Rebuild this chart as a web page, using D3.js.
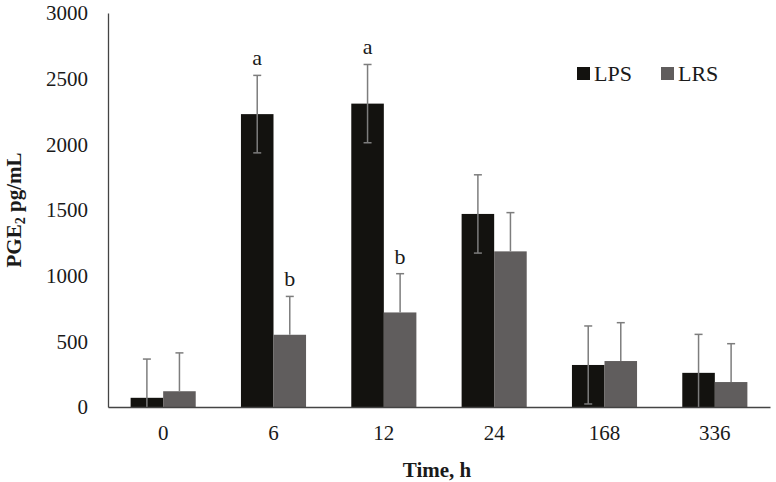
<!DOCTYPE html>
<html>
<head>
<meta charset="utf-8">
<script src="https://cdn.jsdelivr.net/npm/d3@7/dist/d3.min.js"></script>
<style>
  body { margin: 0; background: #fff; }
  svg { display: block; }
  text { font-family: "Liberation Serif", "Times New Roman", serif; fill: #1a1a1a; }
</style>
</head>
<body>
<svg id="chart" width="776" height="482"></svg>
<script>
const categories = ["0", "6", "12", "24", "168", "336"];
const seriesNames = ["LPS", "LRS"];
const lpsValues = [70, 2230, 2310, 1470, 320, 260];
const lrsValues = [120, 550, 720, 1185, 350, 190];
const lpsErrors = [295, 295, 298, 298, 297, 293];
const lrsErrors = [292, 292, 295, 295, 292, 292];
const lpsLetters = ["", "a", "a", "", "", ""];
const lrsLetters = ["", "b", "b", "", "", ""];
const yTicks = [0, 500, 1000, 1500, 2000, 2500, 3000];
const colors = ["#13120f", "#605d5d"];

const svg = d3.select("#chart");
const margin = { left: 108, right: 6, top: 13, bottom: 75 };
const W = 776, H = 482;
const plotW = W - margin.left - margin.right;
const plotH = H - margin.top - margin.bottom;

const g = svg.append("g").attr("transform", `translate(${margin.left},${margin.top})`);

const x0 = d3.scaleBand().domain(categories).range([0, plotW]).paddingInner(0.41).paddingOuter(0.205);
const x1 = d3.scaleBand().domain(seriesNames).range([0, x0.bandwidth()]).padding(0);
const y = d3.scaleLinear().domain([0, 3000]).range([plotH, 0]);

const data = categories.map((c, i) => ({
  cat: c,
  vals: [
    { s: "LPS", v: lpsValues[i], e: lpsErrors[i], l: lpsLetters[i], both: true },
    { s: "LRS", v: lrsValues[i], e: lrsErrors[i], l: lrsLetters[i], both: false }
  ]
}));

const groups = g.selectAll("g.grp").data(data).join("g")
  .attr("class", "grp")
  .attr("transform", d => `translate(${x0(d.cat)},0)`);

groups.selectAll("rect").data(d => d.vals).join("rect")
  .attr("x", d => x1(d.s))
  .attr("y", d => y(d.v))
  .attr("width", x1.bandwidth())
  .attr("height", d => plotH - y(d.v))
  .attr("fill", (d, i) => colors[i]);

const errColor = "#7d7d7d";
const capW = 8;
groups.each(function(d) {
  const gg = d3.select(this);
  d.vals.forEach(p => {
    const cx = x1(p.s) + x1.bandwidth() / 2;
    const top = y(p.v + p.e);
    const bot = p.both ? y(Math.max(0, p.v - p.e)) : y(p.v);
    gg.append("line").attr("x1", cx).attr("x2", cx).attr("y1", top).attr("y2", bot)
      .attr("stroke", errColor).attr("stroke-width", 1.5);
    gg.append("line").attr("x1", cx - capW / 2).attr("x2", cx + capW / 2).attr("y1", top).attr("y2", top)
      .attr("stroke", errColor).attr("stroke-width", 1.5);
    if (p.both && p.v - p.e > 0) {
      gg.append("line").attr("x1", cx - capW / 2).attr("x2", cx + capW / 2).attr("y1", bot).attr("y2", bot)
        .attr("stroke", errColor).attr("stroke-width", 1.5);
    }
    if (p.l) {
      gg.append("text").attr("x", cx).attr("y", top - 10)
        .attr("text-anchor", "middle").attr("font-size", 22).text(p.l);
    }
  });
});

const yAxis = d3.axisLeft(y).tickValues(yTicks).tickSize(0).tickPadding(20).tickFormat(d3.format("d"));
const yg = g.append("g").call(yAxis);
yg.select(".domain").attr("stroke", "#444").attr("stroke-width", 1.3);
yg.selectAll("text").attr("font-size", 21).attr("fill", "#1a1a1a");

const xAxis = d3.axisBottom(x0).tickSize(0).tickPadding(18);
const xg = g.append("g").attr("transform", `translate(0,${plotH})`).call(xAxis);
xg.select(".domain").attr("stroke", "#444").attr("stroke-width", 1.3);
xg.selectAll("text").attr("font-size", 21).attr("fill", "#1a1a1a");

svg.append("text")
  .attr("x", margin.left + plotW / 2 - 2).attr("y", 477)
  .attr("text-anchor", "middle").attr("font-size", 21).attr("font-weight", "bold")
  .text("Time, h");

const yt = svg.append("text")
  .attr("transform", `translate(21,${margin.top + plotH / 2}) rotate(-90)`)
  .attr("text-anchor", "middle").attr("font-size", 21).attr("font-weight", "bold");
yt.append("tspan").text("PGE");
yt.append("tspan").attr("font-size", 14).attr("dy", 4).text("2");
yt.append("tspan").attr("dy", -4).text(" pg/mL");

const legend = svg.append("g").attr("transform", "translate(577,67)");
const legendX = [0, 84];
seriesNames.forEach((s, i) => {
  const lg = legend.append("g").attr("transform", `translate(${legendX[i]},0)`);
  lg.append("rect").attr("width", 13).attr("height", 13).attr("fill", colors[i]);
  lg.append("text").attr("x", 17).attr("y", 13.5).attr("font-size", 22).text(s);
});
</script>
</body>
</html>
